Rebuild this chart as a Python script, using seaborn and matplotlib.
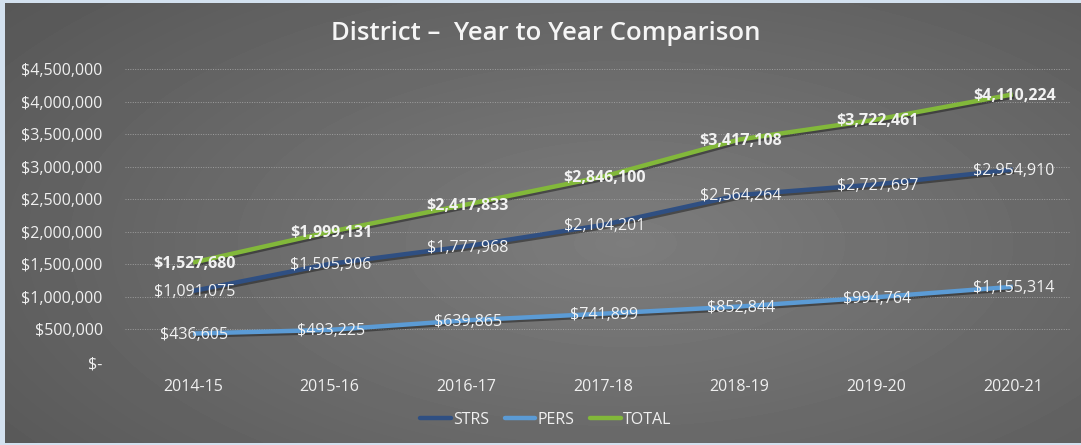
import numpy as np
import pandas as pd
import matplotlib.pyplot as plt
import matplotlib.patheffects as pe
from matplotlib.ticker import FuncFormatter
import seaborn as sns

years = ['2014-15', '2015-16', '2016-17', '2017-18', '2018-19', '2019-20', '2020-21']
strs = [1091075, 1505906, 1777968, 2104201, 2564264, 2727697, 2954910]
pers = [436605, 493225, 639865, 741899, 852844, 994764, 1155314]
total = [1527680, 1999131, 2417833, 2846100, 3417108, 3722461, 4110224]

series_names = ['STRS', 'PERS', 'TOTAL']
colors = {'STRS': '#2f4f82', 'PERS': '#5b9bd5', 'TOTAL': '#82b83a'}

df = pd.DataFrame({
    'year': years * 3,
    'value': strs + pers + total,
    'series': ['STRS'] * 7 + ['PERS'] * 7 + ['TOTAL'] * 7,
})

sns.set_theme(style='white')
plt.rcParams['font.family'] = ['Open Sans', 'DejaVu Sans']

fig = plt.figure(figsize=(10.81, 4.45), dpi=100)

# background: light blue frame + gray gradient panel
bg = fig.add_axes([0, 0, 1, 1], zorder=-10)
bg.set_xlim(0, 1081)
bg.set_ylim(445, 0)
bg.axis('off')
bg.add_patch(plt.Rectangle((0, 0), 1081, 445, color='#d3e1ef', zorder=0))
yy, xx = np.mgrid[0:440, 0:1076]
d = np.sqrt(((xx - 620) / 700.0) ** 2 + ((yy - 240) / 330.0) ** 2)
shade = np.clip(0.49 - 0.13 * d, 0.33, 0.50)
bg.imshow(shade, cmap='gray', vmin=0, vmax=1, extent=(5, 1081, 443, 3),
          interpolation='bilinear', aspect='auto', zorder=1)

ax = fig.add_axes([125 / 1081, 1 - 362 / 445, (1070 - 125) / 1081, (362 - 69) / 445])
ax.patch.set_alpha(0)

sns.lineplot(data=df, x='year', y='value', hue='series', palette=colors,
             hue_order=series_names, linewidth=3.2, sort=False, ax=ax,
             legend=False)
for line in ax.lines:
    line.set_path_effects([pe.SimpleLineShadow(offset=(1, -1.5), shadow_color='#1a1a1a', alpha=0.5),
                           pe.Normal()])
    line.set_solid_capstyle('butt')

ax.set_xlim(-0.4976, 6.419)
ax.set_ylim(0, 4500000)
ax.set_yticks(np.arange(0, 4500001, 500000))
ax.yaxis.set_major_formatter(FuncFormatter(lambda v, p: '$-' if v == 0 else f'${v:,.0f}'))
ax.grid(axis='y', color='#9e9e9e', linestyle=(0, (1, 1.5)), linewidth=0.7)
ax.grid(axis='x', visible=False)
for s in ax.spines.values():
    s.set_visible(False)
ax.tick_params(axis='both', length=0, colors='#f0f0f0', labelsize=11.5)
ax.tick_params(axis='y', pad=16)
ax.tick_params(axis='x', pad=12)
ax.set_xlabel('')
ax.set_ylabel('')

# data labels centered on points
for name, vals in [('STRS', strs), ('PERS', pers), ('TOTAL', total)]:
    for i, v in enumerate(vals):
        ax.annotate(f'${v:,}', (i, v), xytext=(1, -1), textcoords='offset points',
                    ha='center', va='center', color='#f2f2f2', fontsize=11.5,
                    fontweight='bold' if name == 'TOTAL' else 'normal')

fig.text(0.505, 0.925, 'District \u2013  Year to Year Comparison', ha='center', va='center',
         color='#f5f5f5', fontsize=18.5, fontweight='semibold')

handles = [plt.Line2D([], [], color=colors[n], linewidth=3.2) for n in series_names]
fig.legend(handles, series_names, loc='center', bbox_to_anchor=(0.505, 0.056), ncol=3,
           frameon=False, fontsize=11.5, labelcolor='#f0f0f0', handlelength=1.9,
           handletextpad=0.15, columnspacing=1.0)

fig.savefig('out.png', dpi=100)
